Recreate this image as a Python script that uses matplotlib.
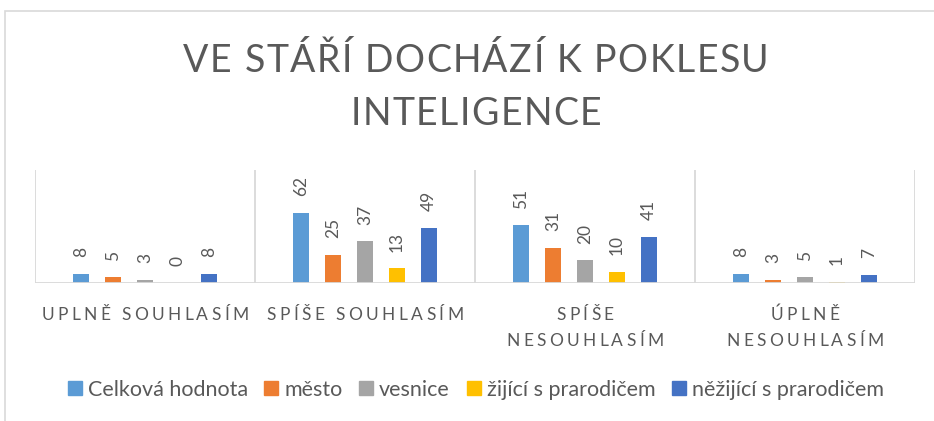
import matplotlib
matplotlib.use("Agg")
import matplotlib.pyplot as plt
from matplotlib.lines import Line2D
from matplotlib.patches import Rectangle
from matplotlib.transforms import IdentityTransform
from matplotlib.font_manager import FontProperties
import numpy as np

plt.rcParams['font.family'] = ['Lato', 'DejaVu Sans']

# data
title_lines = ["VE STÁŘÍ DOCHÁZÍ K POKLESU", "INTELIGENCE"]
categories = [["UPLNĚ SOUHLASÍM"], ["SPÍŠE SOUHLASÍM"],
              ["SPÍŠE", "NESOUHLASÍM"], ["ÚPLNĚ", "NESOUHLASÍM"]]
series_names = ["Celková hodnota", "město", "vesnice",
                "žijící s prarodičem", "něžijící s prarodičem"]
celkova = [8, 62, 51, 8]
mesto = [5, 25, 31, 3]
vesnice = [3, 37, 20, 5]
zijici = [0, 13, 10, 1]
nezijici = [8, 49, 41, 7]
values = [celkova, mesto, vesnice, zijici, nezijici]
colors = ["#5B9BD5", "#ED7D31", "#A5A5A5", "#FFC000", "#4472C4"]

TXT = "#595959"
GRID = "#D9D9D9"
W, H = 934, 421

fig = plt.figure(figsize=(W / 100, H / 100), dpi=100)

# outer chart frame (cut off at right/bottom)
fig.patches.append(Rectangle((5 / W, -0.1), 1.2, (H - 11) / H + 0.1,
                             transform=fig.transFigure, fill=False,
                             edgecolor=GRID, linewidth=1.2))

ax = fig.add_axes([35 / W, (H - 283) / H, 880 / W, 113 / H])
x = np.arange(len(categories))
pitch, bw = 0.1455, 0.0727
for i, (vals, col, name) in enumerate(zip(values, colors, series_names)):
    bars = ax.bar(x + (i - 2) * pitch, vals, bw, color=col, label=name, zorder=3)
    for b, v in zip(bars, vals):
        ax.annotate(str(v), (b.get_x() + b.get_width() / 2, v),
                    xytext=(0, 12), textcoords='offset points',
                    rotation=90, ha='center', va='bottom',
                    fontsize=12.5, color=TXT)

ax.set_xlim(-0.5, len(categories) - 0.5)
ax.set_ylim(0, 100)
for s in ax.spines.values():
    s.set_visible(False)
ax.set_xticks([])
ax.set_yticks([])
ax.vlines(np.arange(len(categories) + 1) - 0.5, 0, 100, color=GRID, lw=1.3, zorder=1)
ax.axhline(0, color=GRID, lw=1.3, zorder=4)

fig.canvas.draw()
renderer = fig.canvas.get_renderer()


def char_width(c, fp):
    if c == ' ':
        a = renderer.get_text_width_height_descent('a a', fp, ismath=False)[0]
        b = renderer.get_text_width_height_descent('aa', fp, ismath=False)[0]
        return a - b
    return renderer.get_text_width_height_descent(c, fp, ismath=False)[0]


def spaced_text(cx, y, s, fp, track):
    # excel-like letter spacing: place glyphs one by one
    widths = [char_width(c, fp) for c in s]
    total = sum(widths) + track * (len(s) - 1)
    xx = cx - total / 2
    for c, w in zip(s, widths):
        fig.text(xx, y, c, transform=IdentityTransform(), fontproperties=fp,
                 color=TXT, ha='left', va='baseline')
        xx += w + track


# category labels
cat_fp = FontProperties(family=['Lato', 'DejaVu Sans'], size=12.5)
for i, lines in enumerate(categories):
    cx = ax.transData.transform((i, 0))[0]
    for j, line in enumerate(lines):
        spaced_text(cx, H - 320 - j * 26, line, cat_fp, 3.4)

# title
title_fp = FontProperties(family=['Lato', 'DejaVu Sans'], size=27)
for j, line in enumerate(title_lines):
    spaced_text(476, H - 72 - j * 53, line, title_fp, 1.5)

# legend
handles = [Line2D([], [], marker='s', linestyle='none', markersize=9.5,
                  markerfacecolor=c, markeredgecolor=c) for c in colors]
fig.legend(handles, series_names, loc='center', bbox_to_anchor=(476 / W, (H - 390) / H),
           ncol=5, frameon=False, fontsize=15.5, labelcolor=TXT,
           handlelength=0.6, handletextpad=0.3, columnspacing=0.8)

fig.savefig("out.png", dpi=100)
